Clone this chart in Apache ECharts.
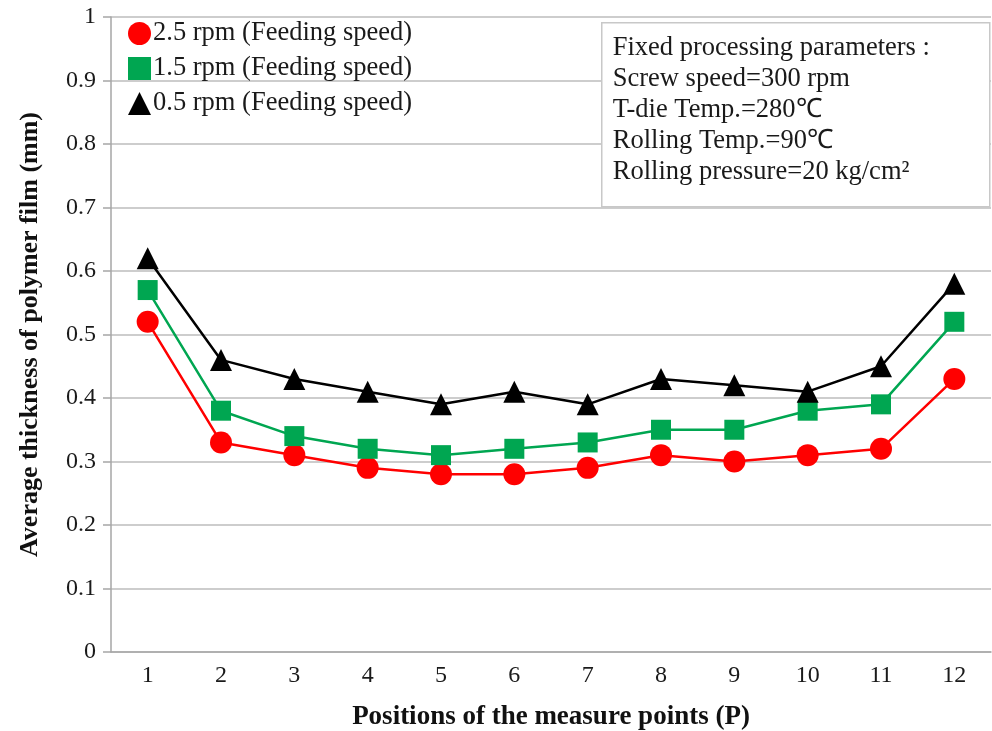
<!DOCTYPE html>
<html>
<head>
<meta charset="utf-8">
<script src="https://cdn.jsdelivr.net/npm/echarts@6/dist/echarts.min.js"></script>
<style>
  html, body { margin: 0; padding: 0; background: #fff; }
  #chart { width: 992px; height: 731px; }
</style>
</head>
<body>
<div id="chart"></div>
<script>
// Measurement positions across the film width
const positions = ['1', '2', '3', '4', '5', '6', '7', '8', '9', '10', '11', '12'];

// Average film thickness (mm) for each feeding speed
const feed25 = [0.52, 0.33, 0.31, 0.29, 0.28, 0.28, 0.29, 0.31, 0.30, 0.31, 0.32, 0.43];
const feed15 = [0.57, 0.38, 0.34, 0.32, 0.31, 0.32, 0.33, 0.35, 0.35, 0.38, 0.39, 0.52];
const feed05 = [0.62, 0.46, 0.43, 0.41, 0.39, 0.41, 0.39, 0.43, 0.42, 0.41, 0.45, 0.58];

const seriesNames = [
  '2.5 rpm (Feeding speed)',
  '1.5 rpm (Feeding speed)',
  '0.5 rpm (Feeding speed)'
];

const paramLines = [
  'Fixed processing parameters :',
  'Screw speed=300 rpm',
  'T-die Temp.=280\u2103',
  'Rolling Temp.=90\u2103',
  'Rolling pressure=20 kg/cm\u00B2'
];

const FONT = '"Liberation Serif", "Times New Roman", serif';

const chart = echarts.init(document.getElementById('chart'), null, { renderer: 'canvas' });

function lineSeries(name, data, color, symbol, size) {
  return {
    name: name,
    type: 'line',
    data: data,
    symbol: symbol,
    symbolSize: size,
    lineStyle: { color: color, width: 2.5 },
    itemStyle: { color: color },
    z: 3
  };
}

chart.setOption({
  animation: false,
  backgroundColor: '#ffffff',
  textStyle: { fontFamily: FONT },
  grid: { left: 111, right: 1, top: 17, bottom: 79, containLabel: false, outerBoundsMode: 'none' },
  legend: {
    orient: 'vertical',
    left: 128,
    top: 20,
    padding: 0,
    itemWidth: 23,
    itemHeight: 23,
    itemGap: 8,
    textStyle: { fontFamily: FONT, fontSize: 26.5, color: '#1a1a1a', padding: [0, 0, 0, -3] },
    data: [
      { name: seriesNames[0], icon: 'circle' },
      { name: seriesNames[1], icon: 'rect' },
      { name: seriesNames[2], icon: 'triangle' }
    ]
  },
  xAxis: {
    type: 'category',
    data: positions,
    boundaryGap: true,
    name: 'Positions of the measure points (P)',
    nameLocation: 'middle',
    nameGap: 52,
    nameTextStyle: { fontFamily: FONT, fontSize: 27, fontWeight: 'bold', color: '#111' },
    axisLine: { lineStyle: { color: '#a6a6a6', width: 1.5 } },
    axisTick: { show: false },
    axisLabel: { fontFamily: FONT, fontSize: 24, color: '#1a1a1a', margin: 12 },
    splitLine: { show: false }
  },
  yAxis: {
    type: 'value',
    min: 0,
    max: 1,
    interval: 0.1,
    name: 'Average thickness of polymer film (mm)',
    nameLocation: 'middle',
    nameGap: 68,
    nameTextStyle: { fontFamily: FONT, fontSize: 26, fontWeight: 'bold', color: '#111' },
    axisLine: { show: true, lineStyle: { color: '#a6a6a6', width: 1.5 } },
    axisTick: { show: true, inside: false, length: 8, lineStyle: { color: '#a6a6a6', width: 1.5 } },
    axisLabel: {
      fontFamily: FONT, fontSize: 24, color: '#1a1a1a', margin: 15,
      formatter: function (v) { return String(Math.round(v * 10) / 10); }
    },
    splitLine: { show: true, lineStyle: { color: '#bdbdbd', width: 1.5 } }
  },
  series: [
    lineSeries(seriesNames[0], feed25, '#ff0000', 'circle', 22),
    lineSeries(seriesNames[1], feed15, '#00a651', 'rect', 20),
    lineSeries(seriesNames[2], feed05, '#000000', 'triangle', 22)
  ],
  graphic: [
    {
      type: 'group',
      left: 601,
      top: 22,
      z: 100,
      children: [
        {
          type: 'rect',
          z: 100,
          shape: { x: 0, y: 0, width: 388, height: 184 },
          style: { fill: '#ffffff', stroke: '#c8c8c8', lineWidth: 1.5 }
        },
        {
          type: 'text',
          z: 101,
          x: 11,
          y: 10,
          style: {
            text: paramLines.join('\n'),
            font: '26.5px ' + FONT,
            lineHeight: 31,
            fill: '#1a1a1a'
          }
        }
      ]
    }
  ]
});
</script>
</body>
</html>
